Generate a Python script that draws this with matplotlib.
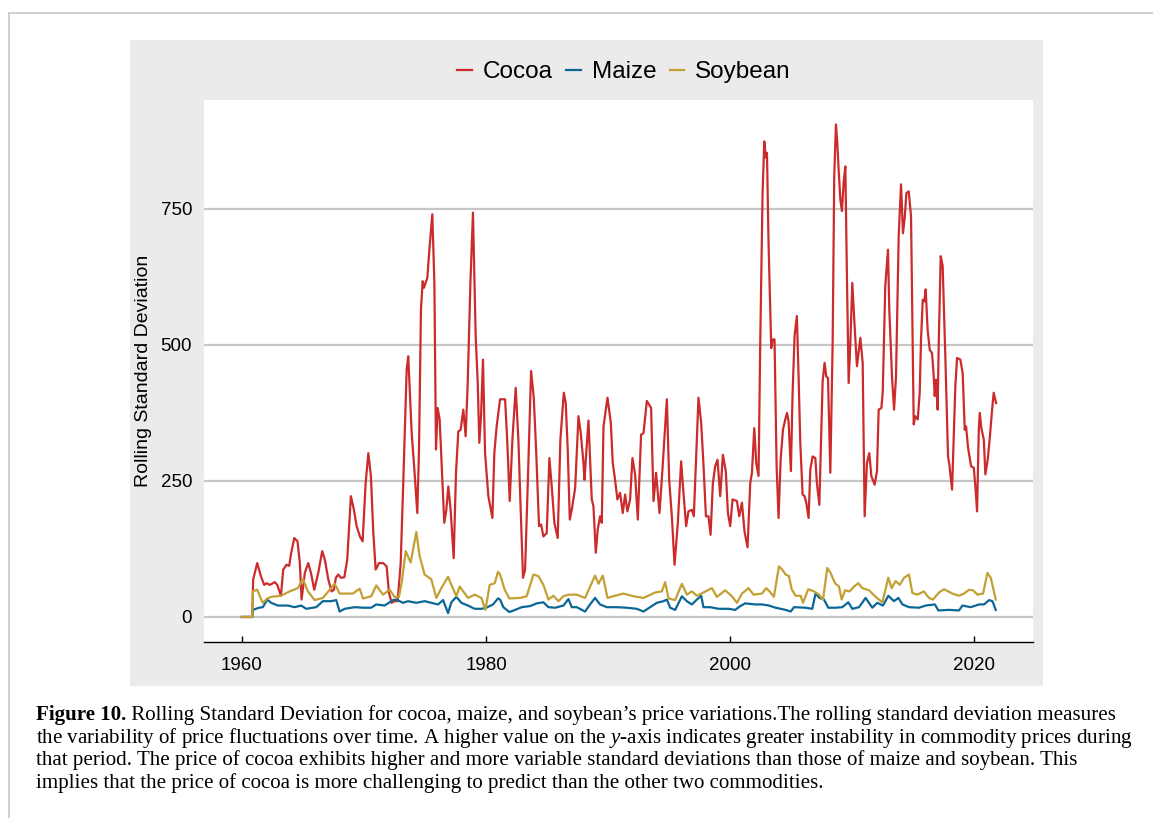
import matplotlib
matplotlib.use('Agg')
import matplotlib.pyplot as plt
from matplotlib.patches import Rectangle
from matplotlib.lines import Line2D

plt.rcParams['font.family'] = ['Liberation Sans', 'DejaVu Sans']
plt.rcParams['mathtext.fontset'] = 'custom'
plt.rcParams['mathtext.it'] = 'Liberation Serif:italic'
plt.rcParams['mathtext.rm'] = 'Liberation Serif'

# rolling std (decimal year, value)
cocoa_year = [1960.00, 1960.85, 1960.93, 1961.26, 1961.56, 1961.83, 1962.02, 1962.30, 1962.70, 1962.90,
              1963.20, 1963.39, 1963.66, 1963.88, 1964.02, 1964.29, 1964.56, 1964.75, 1964.89, 1965.16,
              1965.44, 1965.66, 1965.93, 1966.26, 1966.58, 1966.80, 1967.08, 1967.35, 1967.54, 1967.70,
              1967.90, 1968.11, 1968.39, 1968.63, 1968.93, 1969.18, 1969.40, 1969.67, 1969.89, 1970.14,
              1970.36, 1970.57, 1970.77, 1970.96, 1971.23, 1971.58, 1971.86, 1972.05, 1972.27, 1972.49,
              1972.76, 1973.01, 1973.22, 1973.50, 1973.63, 1973.91, 1974.13, 1974.37, 1974.51, 1974.67,
              1974.81, 1974.92, 1975.05, 1975.19, 1975.36, 1975.60, 1975.77, 1975.90, 1976.04, 1976.20,
              1976.37, 1976.58, 1976.75, 1976.91, 1977.10, 1977.35, 1977.54, 1977.73, 1977.92, 1978.14,
              1978.33, 1978.50, 1978.72, 1978.93, 1979.15, 1979.32, 1979.45, 1979.59, 1979.75, 1979.92,
              1980.19, 1980.52, 1980.68, 1980.87, 1981.15, 1981.56, 1981.72, 1981.94, 1982.16, 1982.43,
              1982.65, 1982.81, 1983.03, 1983.20, 1983.42, 1983.69, 1983.91, 1984.10, 1984.34, 1984.51,
              1984.70, 1984.97, 1985.19, 1985.38, 1985.60, 1985.87, 1986.09, 1986.37, 1986.53, 1986.69,
              1986.86, 1987.02, 1987.30, 1987.57, 1987.76, 1987.98, 1988.06, 1988.39, 1988.66, 1988.80,
              1988.99, 1989.15, 1989.34, 1989.48, 1989.62, 1989.95, 1990.22, 1990.38, 1990.57, 1990.76,
              1990.98, 1991.20, 1991.39, 1991.58, 1991.80, 1991.99, 1992.21, 1992.43, 1992.70, 1992.90,
              1993.17, 1993.52, 1993.72, 1993.93, 1994.21, 1994.45, 1994.81, 1995.00, 1995.22, 1995.44,
              1995.71, 1995.98, 1996.17, 1996.39, 1996.58, 1996.86, 1997.02, 1997.40, 1997.62, 1997.81,
              1998.01, 1998.22, 1998.39, 1998.58, 1998.77, 1998.96, 1999.18, 1999.40, 1999.64, 1999.81,
              2000.00, 2000.19, 2000.55, 2000.74, 2000.96, 2001.17, 2001.42, 2001.64, 2001.78, 2001.97,
              2002.13, 2002.32, 2002.46, 2002.65, 2002.79, 2002.92, 2003.01, 2003.14, 2003.36, 2003.47,
              2003.63, 2003.80, 2003.96, 2004.13, 2004.32, 2004.51, 2004.65, 2004.78, 2004.97, 2005.11,
              2005.27, 2005.46, 2005.60, 2005.74, 2005.93, 2006.09, 2006.23, 2006.42, 2006.56, 2006.75,
              2006.97, 2007.10, 2007.30, 2007.57, 2007.73, 2007.87, 2008.01, 2008.20, 2008.39, 2008.52,
              2008.66, 2008.77, 2008.88, 2009.02, 2009.15, 2009.29, 2009.43, 2009.56, 2009.70, 2009.84,
              2010.00, 2010.19, 2010.38, 2010.66, 2010.85, 2011.01, 2011.20, 2011.39, 2011.56, 2011.83,
              2012.02, 2012.16, 2012.38, 2012.49, 2012.70, 2012.92, 2013.03, 2013.25, 2013.42, 2013.58,
              2013.80, 2013.99, 2014.15, 2014.29, 2014.43, 2014.62, 2014.81, 2015.03, 2015.16, 2015.36,
              2015.52, 2015.63, 2015.77, 2015.90, 2016.01, 2016.17, 2016.34, 2016.53, 2016.67, 2016.75,
              2016.86, 2016.99, 2017.08, 2017.24, 2017.40, 2017.62, 2017.84, 2017.95, 2018.17, 2018.44,
              2018.58, 2018.85, 2019.04, 2019.21, 2019.32, 2019.48, 2019.73, 2019.95, 2020.08, 2020.22,
              2020.36, 2020.44, 2020.57, 2020.77, 2020.90, 2021.09, 2021.26, 2021.45, 2021.58, 2021.78]
cocoa_std = [0, 0, 69, 99, 75, 59, 62, 59, 64, 59,
             39, 87, 96, 94, 115, 145, 139, 99, 32, 81,
             99, 81, 50, 81, 121, 105, 69, 47, 50, 72,
             78, 72, 73, 105, 222, 197, 167, 148, 139, 246,
             301, 259, 154, 87, 99, 99, 93, 44, 26, 29,
             29, 99, 246, 455, 479, 338, 271, 191, 307, 565,
             617, 605, 614, 623, 675, 740, 614, 308, 384, 363,
             277, 173, 197, 240, 197, 108, 265, 341, 344, 381,
             332, 430, 614, 743, 517, 430, 320, 369, 473, 301,
             222, 182, 301, 350, 400, 400, 332, 213, 326, 421,
             326, 216, 72, 87, 246, 452, 403, 308, 167, 170,
             148, 154, 292, 240, 173, 145, 326, 412, 393, 308,
             179, 197, 237, 369, 338, 283, 252, 361, 216, 203,
             118, 161, 185, 173, 350, 403, 357, 283, 252, 216,
             228, 191, 225, 194, 216, 292, 262, 179, 335, 338,
             397, 384, 213, 265, 191, 271, 400, 252, 185, 96,
             173, 286, 228, 167, 194, 197, 185, 403, 357, 280,
             185, 185, 151, 246, 277, 289, 222, 298, 268, 191,
             167, 216, 213, 185, 210, 157, 128, 246, 265, 347,
             283, 259, 504, 779, 874, 844, 853, 687, 494, 510,
             510, 277, 182, 289, 344, 363, 375, 360, 268, 412,
             516, 553, 442, 320, 225, 222, 210, 182, 271, 295,
             292, 246, 206, 433, 467, 442, 439, 265, 504, 810,
             905, 871, 822, 767, 746, 798, 828, 626, 430, 504,
             614, 534, 461, 513, 467, 185, 283, 301, 259, 243,
             268, 381, 384, 412, 608, 675, 565, 442, 381, 442,
             700, 795, 705, 733, 779, 782, 737, 354, 369, 363,
             412, 510, 583, 580, 602, 528, 491, 485, 442, 406,
             436, 381, 504, 663, 645, 479, 295, 280, 234, 424,
             476, 473, 448, 344, 350, 311, 277, 274, 240, 194,
             344, 375, 347, 326, 262, 289, 329, 381, 412, 393]

maize_year = [1960.00, 1960.85, 1960.90, 1961.40, 1961.72, 1962.08, 1962.40, 1962.95, 1963.77, 1964.32,
              1964.86, 1965.27, 1966.09, 1966.64, 1967.32, 1967.73, 1968.01, 1968.42, 1969.24, 1969.92,
              1970.60, 1971.01, 1971.69, 1972.38, 1972.65, 1973.20, 1973.61, 1974.29, 1974.97, 1975.52,
              1976.07, 1976.48, 1976.89, 1977.16, 1977.57, 1977.98, 1978.52, 1979.07, 1979.62, 1980.03,
              1980.57, 1980.98, 1981.15, 1981.42, 1981.91, 1982.38, 1982.92, 1983.61, 1984.15, 1984.70,
              1985.11, 1985.66, 1986.34, 1986.75, 1987.02, 1987.43, 1988.11, 1988.52, 1988.93, 1989.34,
              1989.89, 1990.71, 1991.53, 1992.35, 1992.90, 1993.44, 1993.99, 1994.53, 1994.81, 1995.08,
              1995.49, 1996.04, 1996.45, 1996.86, 1997.27, 1997.62, 1997.81, 1998.36, 1999.04, 1999.86,
              2000.41, 2000.82, 2001.23, 2002.05, 2002.62, 2003.17, 2003.72, 2004.54, 2004.95, 2005.23,
              2006.17, 2006.72, 2006.99, 2007.32, 2007.68, 2008.03, 2008.63, 2009.18, 2009.67, 2010.00,
              2010.55, 2011.09, 2011.64, 2012.05, 2012.51, 2012.95, 2013.41, 2013.77, 2014.11, 2014.64,
              2015.46, 2016.01, 2016.77, 2017.04, 2017.92, 2018.74, 2019.02, 2019.70, 2020.38, 2020.79,
              2021.20, 2021.48, 2021.75]
maize_std = [0, 0, 13, 17, 18, 32, 26, 21, 21, 18,
             21, 15, 18, 29, 29, 31, 10, 15, 18, 17,
             17, 23, 21, 31, 32, 26, 29, 26, 29, 26,
             23, 31, 7, 27, 37, 26, 21, 15, 15, 17,
             23, 34, 32, 18, 9, 13, 18, 20, 25, 27,
             18, 17, 21, 33, 18, 18, 10, 23, 35, 23,
             18, 18, 17, 15, 10, 18, 26, 29, 32, 17,
             13, 38, 29, 23, 32, 39, 18, 18, 15, 15,
             13, 20, 25, 23, 23, 21, 17, 13, 10, 18,
             17, 15, 43, 35, 32, 17, 17, 18, 27, 15,
             18, 35, 17, 26, 21, 39, 29, 35, 23, 18,
             17, 21, 23, 12, 13, 12, 21, 18, 23, 23,
             31, 29, 13]

soy_year = [1960.00, 1960.85, 1960.90, 1961.26, 1961.53, 1961.72, 1962.08, 1962.40, 1963.22, 1963.91,
            1964.59, 1965.00, 1965.41, 1965.96, 1966.64, 1967.19, 1967.60, 1968.01, 1969.10, 1969.65,
            1969.92, 1970.60, 1971.01, 1971.56, 1972.10, 1972.51, 1972.87, 1973.11, 1973.42, 1973.83,
            1974.29, 1974.56, 1974.97, 1975.52, 1975.93, 1976.34, 1976.89, 1977.16, 1977.57, 1977.84,
            1978.52, 1979.07, 1979.62, 1979.95, 1980.30, 1980.71, 1980.98, 1981.15, 1981.53, 1981.91,
            1982.79, 1983.33, 1983.88, 1984.29, 1984.70, 1985.11, 1985.52, 1985.93, 1986.34, 1986.75,
            1987.43, 1988.11, 1988.47, 1988.93, 1989.21, 1989.56, 1989.95, 1990.57, 1991.26, 1992.08,
            1992.90, 1993.85, 1994.40, 1994.67, 1994.95, 1995.49, 1996.04, 1996.45, 1996.86, 1997.27,
            1997.81, 1998.50, 1998.91, 1999.59, 2000.14, 2000.55, 2000.96, 2001.50, 2001.91, 2002.60,
            2002.95, 2003.22, 2003.58, 2003.99, 2004.26, 2004.54, 2004.81, 2005.03, 2005.36, 2005.77,
            2005.96, 2006.39, 2006.86, 2007.27, 2007.60, 2007.95, 2008.22, 2008.58, 2008.91, 2009.13,
            2009.40, 2009.78, 2010.14, 2010.49, 2010.82, 2011.37, 2011.91, 2012.46, 2012.95, 2013.22,
            2013.55, 2013.88, 2014.24, 2014.64, 2014.92, 2015.33, 2015.87, 2016.28, 2016.61, 2017.10,
            2017.51, 2018.20, 2018.74, 2019.15, 2019.56, 2019.89, 2020.25, 2020.71, 2021.07, 2021.34,
            2021.75]
soy_std = [0, 0, 47, 50, 35, 26, 34, 37, 39, 47,
           53, 70, 47, 31, 35, 50, 61, 43, 43, 52,
           34, 38, 58, 41, 50, 37, 37, 66, 121, 100,
           156, 112, 78, 69, 35, 53, 74, 59, 38, 56,
           35, 41, 35, 13, 59, 62, 83, 78, 50, 34,
           35, 38, 78, 75, 59, 32, 39, 29, 38, 41,
           41, 35, 53, 76, 61, 76, 35, 39, 43, 38,
           35, 45, 47, 64, 34, 31, 61, 41, 47, 39,
           45, 53, 37, 49, 38, 26, 43, 53, 41, 43,
           53, 47, 37, 93, 87, 78, 75, 51, 39, 39,
           26, 51, 47, 41, 32, 90, 81, 62, 56, 32,
           49, 47, 56, 62, 53, 49, 37, 27, 72, 53,
           66, 59, 72, 78, 44, 41, 47, 35, 32, 45,
           51, 43, 39, 43, 50, 49, 41, 43, 81, 72,
           32]

series_names = ['Cocoa', 'Maize', 'Soybean']
yticks = [0, 250, 500, 750]
xticks = [1960, 1980, 2000, 2020]

W, H = 1153, 818
fig = plt.figure(figsize=(W / 100, H / 100), dpi=100)

# gray panel behind the plot
fig.add_artist(Rectangle((130 / W, 1 - 686 / H), 913 / W, 646 / H, transform=fig.transFigure,
                         facecolor='#ebebeb', edgecolor='none', zorder=-5))
# page frame lines
fig.add_artist(Line2D([9 / W, 9 / W], [0, 1 - 13 / H], transform=fig.transFigure, color='#c8c8c8', lw=1.2))
fig.add_artist(Line2D([9 / W, 1], [1 - 13 / H, 1 - 13 / H], transform=fig.transFigure, color='#c8c8c8', lw=1.2))

ax = fig.add_axes([204 / W, 1 - 642 / H, 829 / W, 542 / H])
ax.set_facecolor('white')

ax.plot(cocoa_year, cocoa_std, color='#cc2b2b', lw=1.6, label=series_names[0], zorder=3)
ax.plot(maize_year, maize_std, color='#0b6796', lw=1.6, label=series_names[1], zorder=4)
ax.plot(soy_year, soy_std, color='#c3a033', lw=1.6, label=series_names[2], zorder=5)

ax.set_xlim(1956.9, 2024.8)
ax.set_ylim(-46, 950)
ax.set_yticks(yticks)
ax.set_xticks(xticks)
ax.grid(axis='y', color='#c6c6c6', lw=1.6)
ax.set_axisbelow(True)
for s in ['top', 'right', 'left']:
    ax.spines[s].set_visible(False)
ax.spines['bottom'].set_color('black')
ax.spines['bottom'].set_linewidth(1.0)
ax.tick_params(axis='y', length=0, pad=8.5, labelsize=13.5)
ax.tick_params(axis='x', direction='in', length=4.5, width=1, pad=11, labelsize=13.5)

fig.text(144 / W, 1 - 371 / H, 'Rolling Standard Deviation', rotation=90, ha='center', va='center', fontsize=14)

fig.legend(loc='center', bbox_to_anchor=(624 / W, 1 - 72 / H), ncol=3, frameon=False, fontsize=17.5,
           handlelength=0.6, handletextpad=0.45, columnspacing=0.55)

# caption
cap_font = ['Liberation Serif', 'DejaVu Serif']
cap_size = 15.1
x0 = 36 / W
lines = [
    ' Rolling Standard Deviation for cocoa, maize, and soybean\u2019s price variations.The rolling standard deviation measures',
    'the variability of price fluctuations over time. A higher value on the $y$-axis indicates greater instability in commodity prices during',
    'that period. The price of cocoa exhibits higher and more variable standard deviations than those of maize and soybean. This',
    'implies that the price of cocoa is more challenging to predict than the other two commodities.',
]
base = [720, 742.7, 765.3, 788]
head = fig.text(x0, 1 - base[0] / H, 'Figure 10.', family=cap_font, fontsize=cap_size, weight='bold', va='baseline')
fig.canvas.draw()
bb = head.get_window_extent()
fig.text(bb.x1 / W, 1 - base[0] / H, lines[0], family=cap_font, fontsize=cap_size, va='baseline')
for ln, yb in zip(lines[1:], base[1:]):
    fig.text(x0, 1 - yb / H, ln, family=cap_font, fontsize=cap_size, va='baseline')

fig.savefig('out.png', dpi=100)
